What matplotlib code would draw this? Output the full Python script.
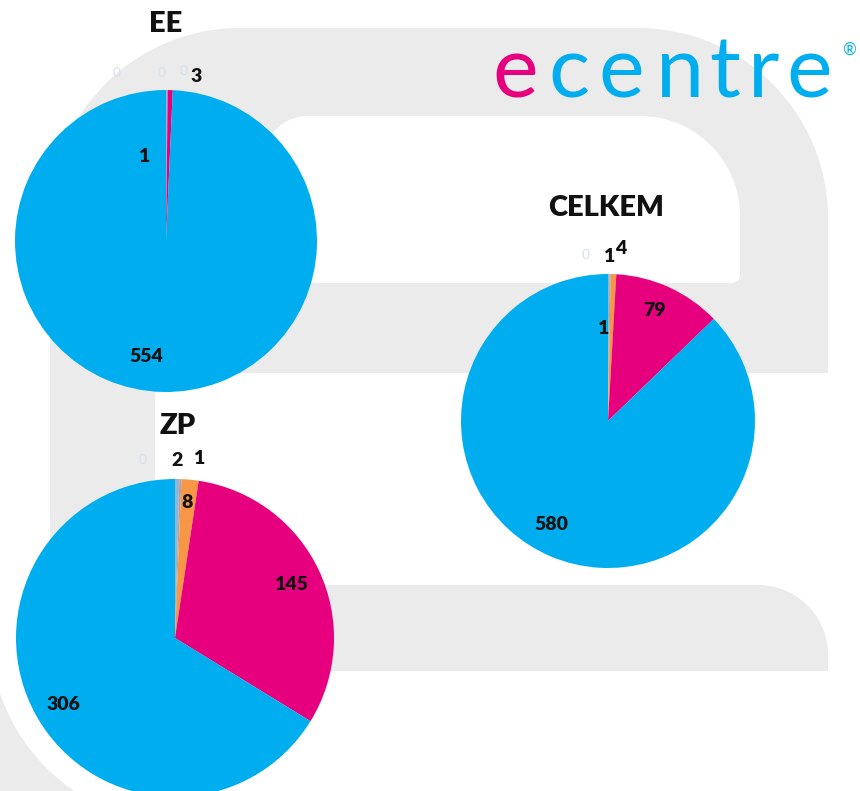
import numpy as np
import matplotlib
matplotlib.use("Agg")
import matplotlib.pyplot as plt
from matplotlib.patches import Polygon

# ---------------- data ----------------
categories = ["kat. 1", "kat. 2", "kat. 3", "kat. 4", "kat. 5", "kat. 6"]
ee_values = [0, 1, 0, 0, 3, 554]
zp_values = [0, 2, 1, 8, 145, 306]
celkem_values = [0, 1, 1, 4, 79, 580]
titles = ["EE", "ZP", "CELKEM"]

# ---------------- style ----------------
colors = ["#4F81BD", "#95B3D7", "#A5A5A5", "#F79646", "#E6007E", "#00AEEF"]
W, H = 860, 791
GRAY = "#EBEBEB"
FONT = ["Lato", "DejaVu Sans"]

fig = plt.figure(figsize=(W / 100, H / 100), dpi=100)
ax = fig.add_axes([0, 0, 1, 1])


def Y(y):
    return H - y


def rrect(x0, y0, x1, y1, r, color, z=0):
    tl, tr, br, bl = r
    pts = []

    def arc(cx, cy, rad, a0, a1):
        for a in np.linspace(a0, a1, 30):
            pts.append((cx + rad * np.cos(a), Y(cy + rad * np.sin(a))))

    arc(x0 + tl, y0 + tl, tl, np.pi, 1.5 * np.pi)
    arc(x1 - tr, y0 + tr, tr, 1.5 * np.pi, 2 * np.pi)
    arc(x1 - br, y1 - br, br, 0, 0.5 * np.pi)
    arc(x0 + bl, y1 - bl, bl, 0.5 * np.pi, np.pi)
    ax.add_patch(Polygon(pts, closed=True, facecolor=color, edgecolor="none", zorder=z))


# background "e" shape
rrect(50, 28, 828, 373, (190, 190, 0, 0), GRAY)          # top part
rrect(50, 200, 155, 640, (0, 0, 0, 0), GRAY)             # left stroke
rrect(140, 585, 828, 671, (0, 70, 0, 0), GRAY)           # bottom bar
rrect(263, 116, 740, 283, (45, 100, 8, 8), "white")      # inner hole
# bottom-left corner swoosh
cx, cy, rr = 182, 632, 192
xs, ys = [], []
t_start = np.arctan2(np.sqrt(rr**2 - cx**2), -cx)
t_end = np.arctan2(H - cy, -np.sqrt(rr**2 - (H - cy) ** 2))
for t in np.linspace(t_start, t_end, 40):
    xs.append(cx + rr * np.cos(t))
    ys.append(cy + rr * np.sin(t))
pts = [(x, Y(y)) for x, y in zip(xs, ys)] + [(0, Y(H)), (0, Y(ys[0]))]
ax.add_patch(Polygon(pts, closed=True, facecolor=GRAY, edgecolor="none", zorder=0))

# ---------------- pies ----------------
pies = [
    dict(values=ee_values, center=(166, 241), r=151, title="EE", tpos=(166, 24),
         lpos=[(117, 73), (144, 157), (162, 73), (184, 71), (196, 76), (146, 356)]),
    dict(values=zp_values, center=(175, 638), r=159, title="ZP", tpos=(178, 426),
         lpos=[(143, 460), (177, 461), (199, 459), (187, 502), (291, 584), (63, 704)]),
    dict(values=celkem_values, center=(608, 421), r=147, title="CELKEM", tpos=(606, 208),
         lpos=[(586, 255), (603, 328), (609, 257), (621, 249), (654, 311), (551, 524)]),
]

for p in pies:
    cxp, cyp = p["center"]
    ax.pie(p["values"], colors=colors, startangle=90, counterclock=False,
           center=(cxp, Y(cyp)), radius=p["r"], frame=True,
           wedgeprops=dict(edgecolor="none", linewidth=0, zorder=2))
    ax.text(p["tpos"][0], Y(p["tpos"][1]), p["title"], ha="center", va="center",
            fontsize=21, fontweight="heavy", family=FONT, color="#111111", zorder=5)
    for v, (lx, ly) in zip(p["values"], p["lpos"]):
        if v == 0:
            ax.text(lx, Y(ly), str(v), ha="center", va="center", fontsize=10,
                    family=FONT, color="#D6E0EC", zorder=5)
        else:
            ax.text(lx, Y(ly), str(v), ha="center", va="center", fontsize=14,
                    fontweight="heavy", family=FONT, color="#111111", zorder=5)

# ---------------- logo ----------------
logo = "ecentre"
logo_colors = ["#E6007E"] + ["#00AEEF"] * 6
logo_x = [492, 548, 598, 656, 709, 748, 786]
for ch, c, lx in zip(logo, logo_colors, logo_x):
    ax.text(lx, Y(97), ch, ha="left", va="baseline", fontsize=62, fontweight="normal",
            family=FONT, color=c, zorder=5)
ax.text(849, Y(50), "®", ha="center", va="center", fontsize=12, family=FONT,
        color="#00AEEF", zorder=5)

ax.set_xlim(0, W)
ax.set_ylim(0, H)
ax.set_aspect("auto")
ax.axis("off")
fig.savefig("out.png", dpi=100, facecolor="white")
